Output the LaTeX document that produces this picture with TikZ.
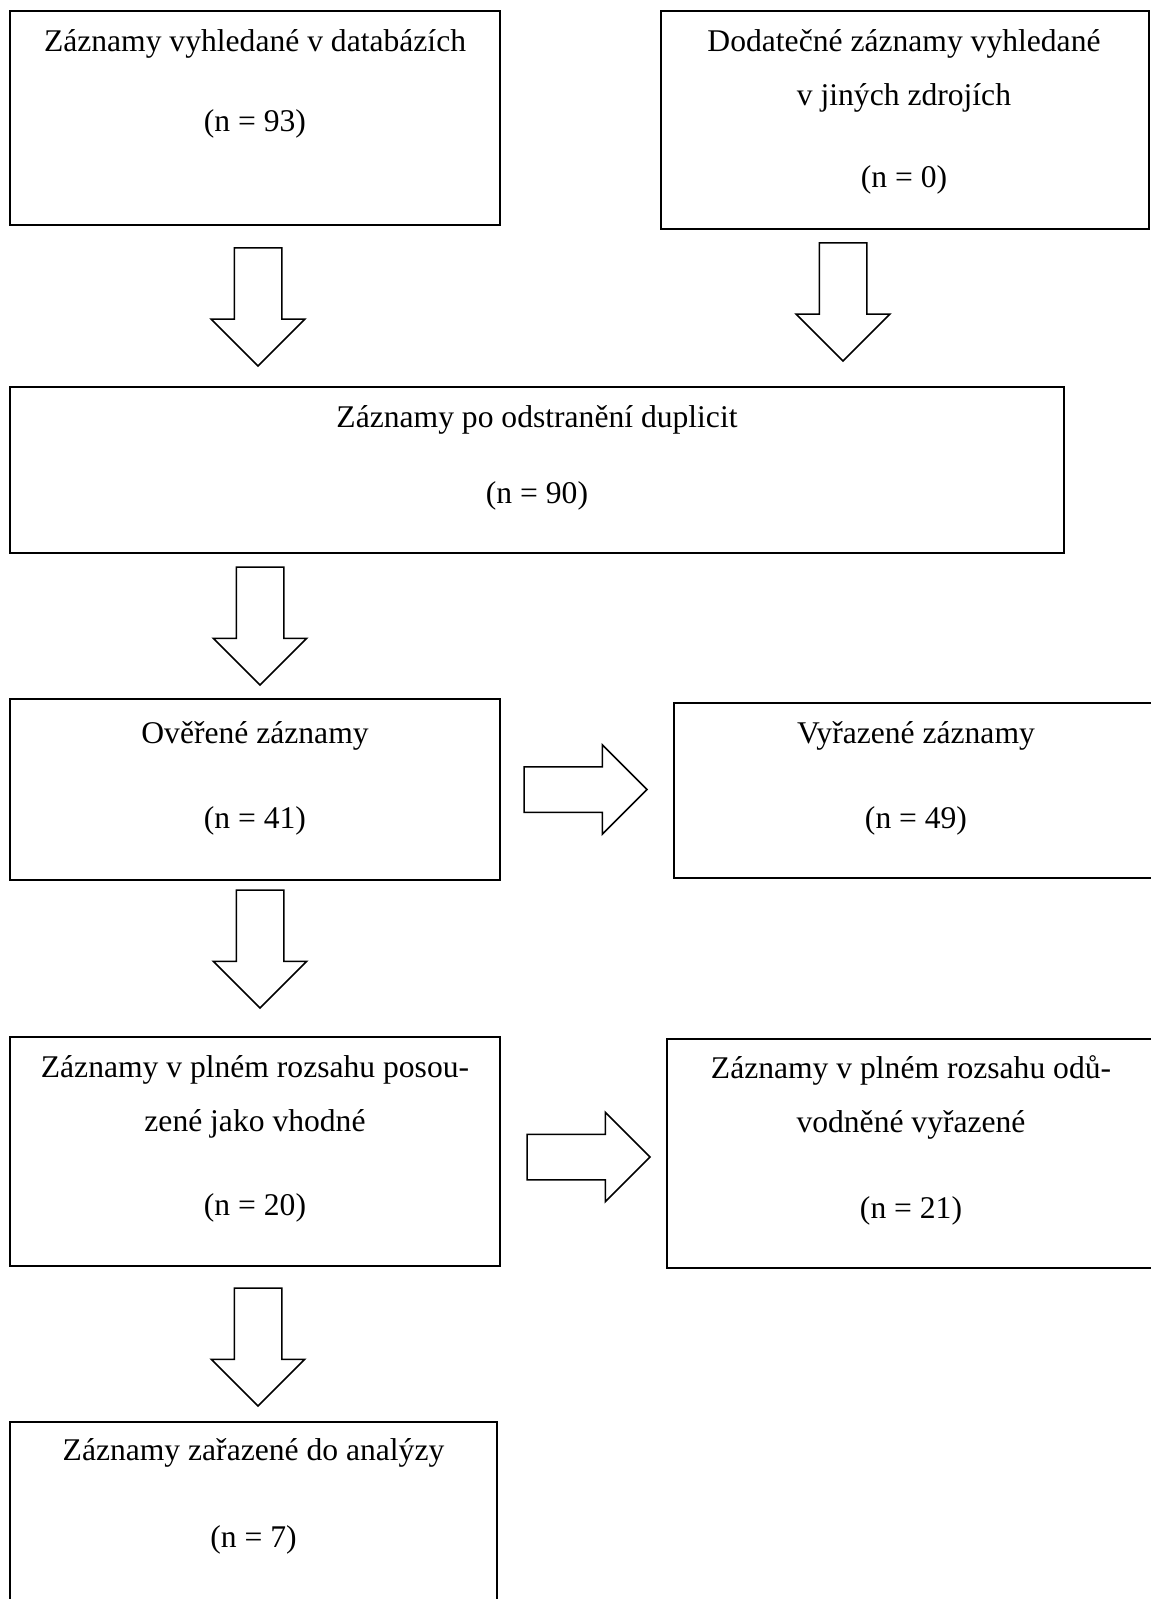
\documentclass[tikz,border=0pt]{standalone}
\usepackage{fontspec}
\setmainfont{Liberation Serif}
\usetikzlibrary{shapes.arrows, positioning}

\begin{document}
\begin{tikzpicture}[
    x=1pt, y=-1pt,
    recbox/.style={rectangle, draw, line width=1pt, inner sep=0pt, outer sep=0pt, anchor=north west},
    rectext/.style={align=center, inner sep=0pt, font=\fontsize{15.8}{27}\selectfont},
    downarr/.style={single arrow, draw, line width=0.75pt, inner sep=11.5pt, outer sep=0pt, minimum height=59pt, minimum width=46pt, single arrow head extend=11.5pt, shape border rotate=270},
    rightarr/.style={single arrow, draw, line width=0.75pt, inner sep=11pt, outer sep=0pt, minimum height=61.5pt, minimum width=44pt, single arrow head extend=11pt},
]
\useasboundingbox (0,0) rectangle (575,799.5);

% boxes
\node[recbox, minimum width=245pt, minimum height=107pt] (recA) at (5,5.5) {};
\node[recbox, minimum width=244pt, minimum height=109pt, right=80.5pt of recA.north east, anchor=north west] (recB) {};
\node[recbox, minimum width=527pt, minimum height=83pt, below=81pt of recA.south west, anchor=north west] (recC) {};
\node[recbox, minimum width=245pt, minimum height=90.5pt, below=73pt of recC.south west, anchor=north west] (recD) {};
\node[recbox, minimum width=242pt, minimum height=87.5pt, right=87pt of recD.north east, yshift=-2pt, anchor=north west] (recE) {};
\node[recbox, minimum width=245pt, minimum height=114.5pt, below=78.5pt of recD.south west, anchor=north west] (recF) {};
\node[recbox, minimum width=244pt, minimum height=114.5pt, right=83.5pt of recF.north east, yshift=-1pt, anchor=north west] (recG) {};
\node[recbox, minimum width=243.5pt, minimum height=100pt, below=78pt of recF.south west, anchor=north west] (recH) {};

% texts (base = last line)
\node[rectext, below=60.5pt of recA.north, anchor=base] (txtA) {Záznamy vyhledané v databázích\\[13pt](n = 93)};
\node[rectext, below=88.5pt of recB.north, xshift=-0.5pt, anchor=base] (txtB) {Dodatečné záznamy vyhledané\\v jiných zdrojích\\[14pt](n = 0)};
\node[rectext, below=58pt of recC.north, anchor=base] (txtC) {Záznamy po odstranění duplicit\\[11pt](n = 90)};
\node[rectext, below=64.5pt of recD.north, anchor=base] (txtD) {Ověřené záznamy\\[15.5pt](n = 41)};
\node[rectext, below=62.5pt of recE.north, anchor=base] (txtE) {Vyřazené záznamy\\[15.5pt](n = 49)};
\node[rectext, below=89pt of recF.north, anchor=base] (txtF) {Záznamy v plném rozsahu posou-\\zené jako vhodné\\[15pt](n = 20)};
\node[rectext, below=89.5pt of recG.north, anchor=base] (txtG) {Záznamy v plném rozsahu odů-\\vodněné vyřazené\\[16pt](n = 21)};
\node[rectext, below=62.5pt of recH.north, anchor=base] (txtH) {Záznamy zařazené do analýzy\\[16.5pt](n = 7)};

% block arrows
\node[downarr, below=11.5pt of recA.south, xshift=1.5pt, anchor=tail] (arrA) {};
\node[downarr, below=7pt of recB.south, xshift=-31pt, anchor=tail] (arrB) {};
\node[downarr, below=7pt of recC.south west, xshift=125pt, anchor=tail] (arrC) {};
\node[downarr, below=5pt of recD.south, xshift=2.5pt, anchor=tail] (arrD) {};
\node[downarr, below=11pt of recF.south, xshift=1.5pt, anchor=tail] (arrF) {};
\node[rightarr, right=12pt of recD.east, anchor=tail] (arrDE) {};
\node[rightarr, right=13.5pt of recF.east, yshift=-2.75pt, anchor=tail] (arrFG) {};
\end{tikzpicture}
\end{document}
